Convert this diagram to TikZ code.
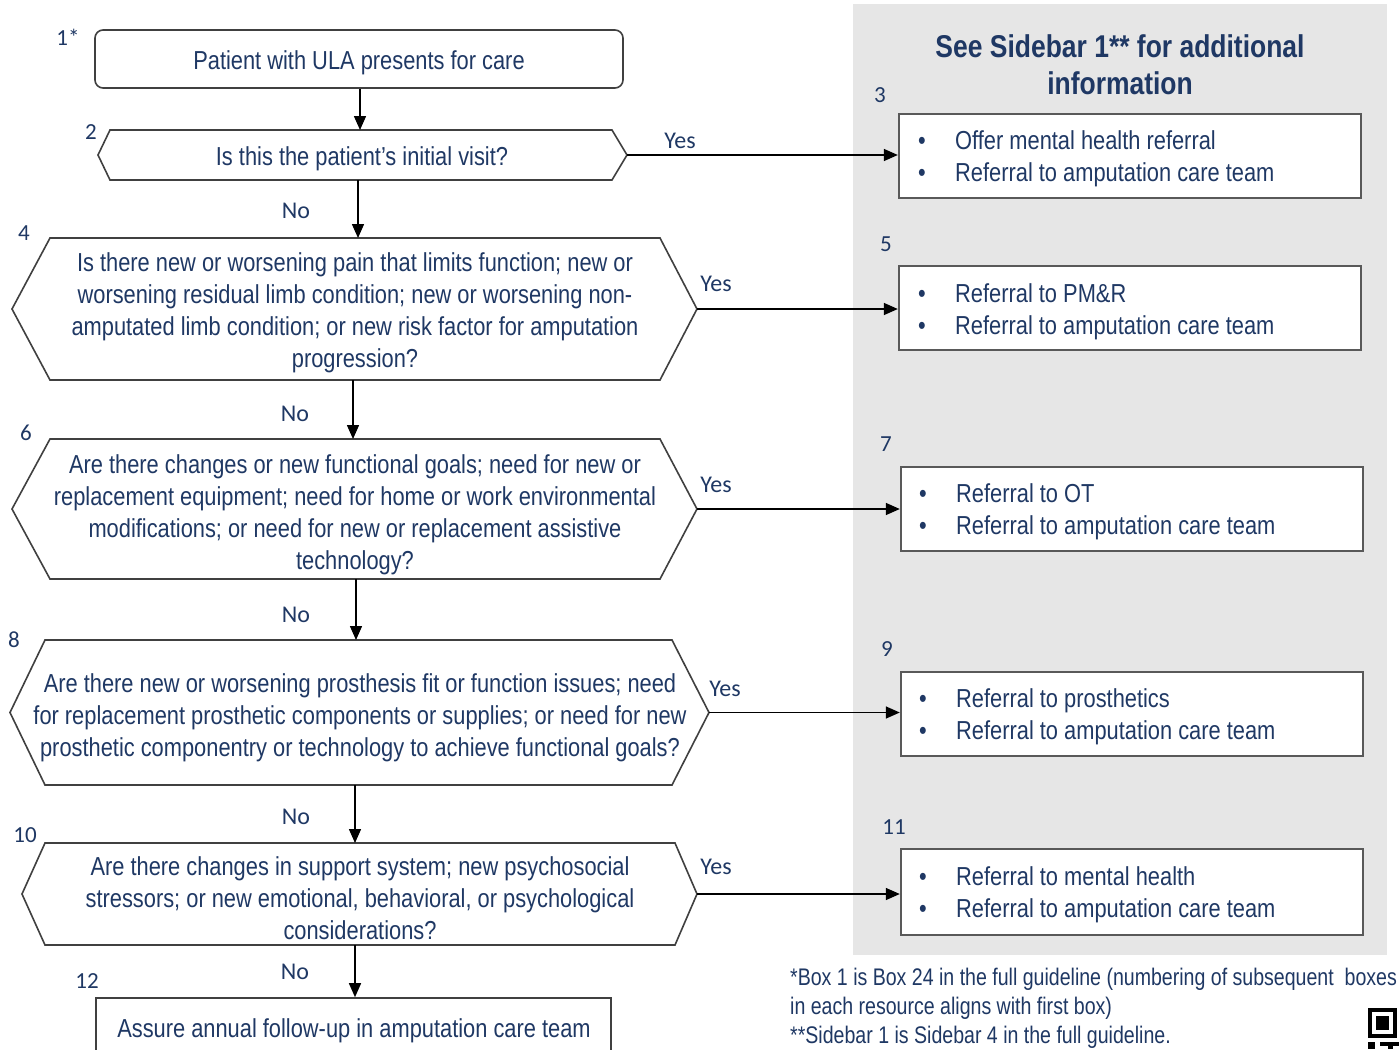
\documentclass[tikz,border=0pt]{standalone}
\usepackage{fontspec}
\setmainfont{Liberation Sans}
\newfontfamily\narrowf[FakeStretch=0.84]{Liberation Sans}
\newfontfamily\footf[FakeStretch=0.815]{Liberation Sans}
\newfontfamily\calf{Carlito}
\usetikzlibrary{arrows.meta}
\definecolor{navy}{HTML}{1F3864}
\definecolor{edge}{HTML}{404040}
\definecolor{boxedge}{HTML}{595959}
\definecolor{panel}{HTML}{E6E6E6}
\newcommand{\hexa}[7]{%
  \coordinate (#1-w) at (#2,{(#6+#7)/2});
  \coordinate (#1-e) at (#5,{(#6+#7)/2});
  \draw[hexline] (#1-w) -- (#3,#6) -- (#4,#6) -- (#1-e) -- (#4,#7) -- (#3,#7) -- cycle;}
\begin{document}
\begin{tikzpicture}[x=1pt,y=-1pt,
  hexline/.style={draw=edge,line width=1.6pt,fill=white,line join=miter},
  qtext/.style={text=navy,align=center,inner sep=0pt,font=\narrowf\fontsize{26}{32}\selectfont},
  num/.style={text=navy,inner sep=0pt,font=\calf\fontsize{23}{26}\selectfont},
  yn/.style={text=navy,inner sep=0pt,font=\calf\fontsize{24}{26}\selectfont},
  rbox/.style={draw=boxedge,line width=2.4pt,fill=white,inner sep=0pt,minimum width=462pt},
  btext/.style={text=navy,align=left,anchor=west,inner sep=0pt,font=\narrowf\fontsize{26}{32}\selectfont},
  arr/.style={draw=black,line width=1.5pt,-{Triangle[length=14pt,width=12pt]}},
  foot/.style={text=navy,anchor=base west,inner sep=0pt,font=\footf\fontsize{24}{29}\selectfont}]
\useasboundingbox (0,0) rectangle (1399,1049);
\clip (0,0) rectangle (1399,1049);
\fill[white] (0,0) rectangle (1399,1049);
% side panel
\fill[panel] (853,4) rectangle (1387,955);
\node[text=navy,align=center,inner sep=0pt,font=\narrowf\bfseries\fontsize{31.5}{37}\selectfont] (title) at (1120,65) {See Sidebar 1** for additional\\information};

% box 1
\node[draw=edge,line width=1.6pt,rounded corners=8pt,minimum width=528pt,minimum height=58pt,inner sep=0pt] (b1) at (359,59) {};
\node[qtext] (t1) at (359,63) {Patient with ULA presents for care};

% hexagons
\hexa{h2}{98}{110}{612}{627}{130}{180}
\node[qtext] (t2) at (362,159) {Is this the patient’s initial visit?};
\hexa{h4}{12}{50}{660}{697}{238}{380}
\node[qtext] (t4) at (355,313) {Is there new or worsening pain that limits function; new or\\worsening residual limb condition; new or worsening non-\\amputated limb condition; or new risk factor for amputation\\progression?};
\hexa{h6}{12}{50}{660}{697}{439}{579}
\node[qtext] (t6) at (355,515) {Are there changes or new functional goals; need for new or\\replacement equipment; need for home or work environmental\\modifications; or need for new or replacement assistive\\technology?};
\hexa{h8}{10}{45}{672}{709}{640}{785}
\node[qtext] (t8) at (360,718) {Are there new or worsening prosthesis fit or function issues; need\\for replacement prosthetic components or supplies; or need for new\\prosthetic componentry or technology to achieve functional goals?};
\hexa{h10}{22}{45}{675}{697}{843}{945}
\node[qtext] (t10) at (360,898) {Are there changes in support system; new psychosocial\\stressors; or new emotional, behavioral, or psychological\\considerations?};

% box 12
\node[draw=edge,line width=1.6pt,minimum width=515pt,minimum height=70pt,inner sep=0pt] (b12) at (353.5,1033) {};
\node[qtext] (t12) at (354,1031) {Assure annual follow-up in amputation care team};

% right boxes
\node[rbox,minimum height=84pt] (b3) at (1130,156) {};
\node[btext] (b3t) at (955,159) {Offer mental health referral\\Referral to amputation care team};
\node[btext] (b3b) at (918,159) {•\\•};
\node[rbox,minimum height=84pt] (b5) at (1130,308) {};
\node[btext] (b5t) at (955,312) {Referral to PM\&R\\Referral to amputation care team};
\node[btext] (b5b) at (918,312) {•\\•};
\node[rbox,minimum height=84pt] (b7) at (1132,509) {};
\node[btext] (b7t) at (956,512) {Referral to OT\\Referral to amputation care team};
\node[btext] (b7b) at (919,512) {•\\•};
\node[rbox,minimum height=84pt] (b9) at (1132,714) {};
\node[btext] (b9t) at (956,717) {Referral to prosthetics\\Referral to amputation care team};
\node[btext] (b9b) at (919,717) {•\\•};
\node[rbox,minimum height=86pt] (b11) at (1132,892) {};
\node[btext] (b11t) at (956,895) {Referral to mental health\\Referral to amputation care team};
\node[btext] (b11b) at (919,895) {•\\•};

% numbers
\node[num] (n1) at (68,37) {1*};
\node[num] (n2) at (91,132) {2};
\node[num] (n3) at (880,95) {3};
\node[num] (n4) at (24,233) {4};
\node[num] (n5) at (886,244) {5};
\node[num] (n6) at (26,433) {6};
\node[num] (n7) at (886,444) {7};
\node[num] (n8) at (14,640) {8};
\node[num] (n9) at (887,649) {9};
\node[num] (n10) at (25,835) {10};
\node[num] (n11) at (894,827) {11};
\node[num] (n12) at (87,981) {12};

% vertical arrows
\coordinate (h2-n) at (360,130);
\coordinate (h2-s) at (358,180);
\coordinate (h4-n) at (358,238);
\coordinate (h4-s) at (353,380);
\coordinate (h6-n) at (353,439);
\coordinate (h6-s) at (356,579);
\coordinate (h8-n) at (356,640);
\coordinate (h8-s) at (355,785);
\coordinate (h10-n) at (355,843);
\coordinate (h10-s) at (355,945);
\draw[arr] (b1.south -| h2-n) -- (h2-n);
\draw[arr] (h2-s) -- (h4-n);
\draw[arr] (h4-s) -- (h6-n);
\draw[arr] (h6-s) -- (h8-n);
\draw[arr] (h8-s) -- (h10-n);
\draw[arr] (h10-s) -- (h10-s |- b12.north);
\node[yn] (no2) at (296,211) {No};
\node[yn] (no4) at (295,414) {No};
\node[yn] (no6) at (296,615) {No};
\node[yn] (no8) at (296,817) {No};
\node[yn] (no10) at (295,972) {No};

% horizontal arrows
\draw[arr] (h2-e) -- (h2-e -| b3.west);
\draw[arr] (h4-e) -- (h4-e -| b5.west);
\draw[arr] (h6-e) -- (h6-e -| b7.west);
\draw[arr] (h8-e) -- (h8-e -| b9.west);
\draw[arr] (h10-e) -- (h10-e -| b11.west);
\node[yn] (y2) at (680,141) {Yes};
\node[yn] (y4) at (716,284) {Yes};
\node[yn] (y6) at (716,485) {Yes};
\node[yn] (y8) at (725,689) {Yes};
\node[yn] (y10) at (716,867) {Yes};

% footnotes
\node[foot] (f1) at (790,985) {*Box 1 is Box 24 in the full guideline (numbering of subsequent \ boxes};
\node[foot] (f2) at (790,1014) {in each resource aligns with first box)};
\node[foot] (f3) at (790,1043) {**Sidebar 1 is Sidebar 4 in the full guideline.};

% QR fragment
\fill[black] (1368,1008) rectangle (1397,1038);
\fill[white] (1372,1012) rectangle (1393,1034);
\fill[black] (1376,1016) rectangle (1389,1030);
\fill[black] (1368,1042) rectangle (1375,1049);
\fill[black] (1380,1042) rectangle (1399,1046);
\fill[black] (1388,1046) rectangle (1393,1049);
\end{tikzpicture}
\end{document}
